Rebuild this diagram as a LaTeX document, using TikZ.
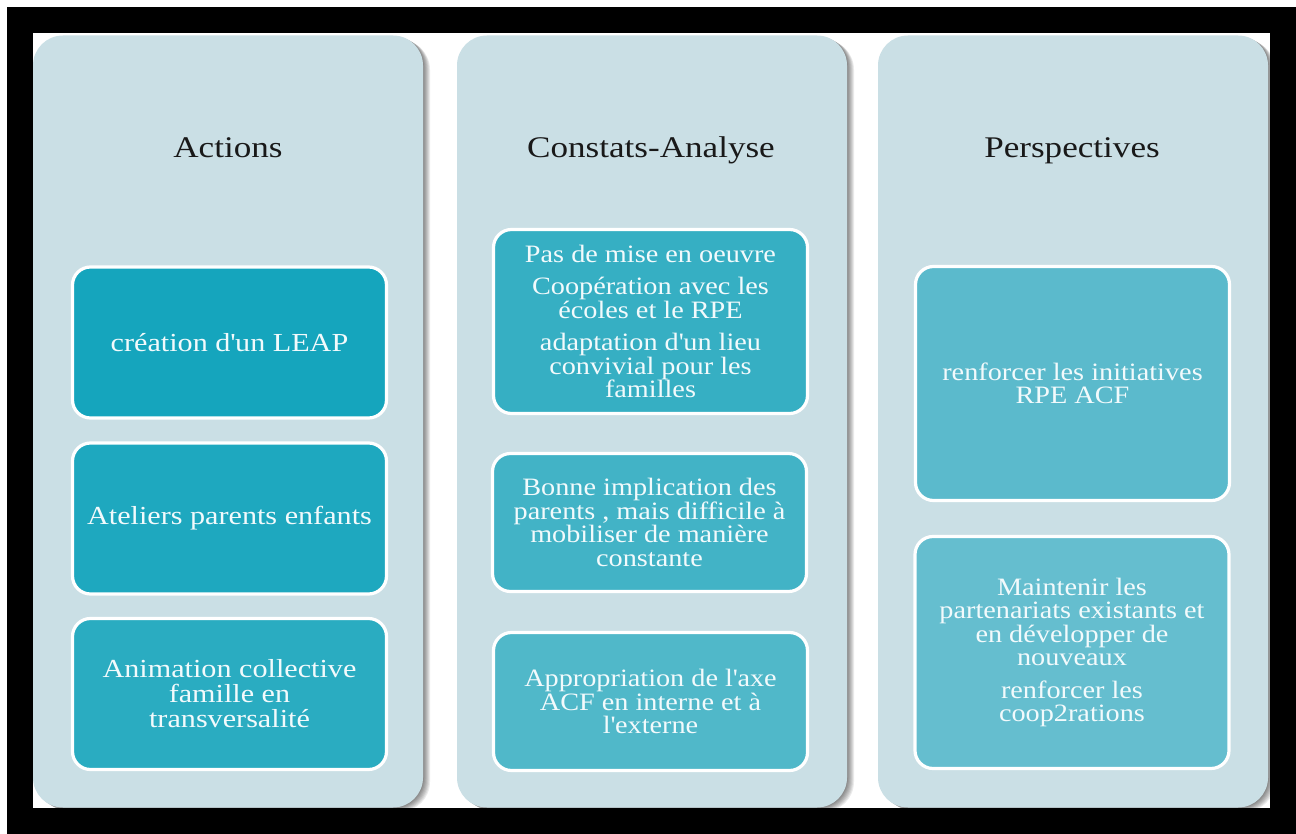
\documentclass[tikz,border=0pt]{standalone}
\usepackage{fontspec}
\setmainfont{Liberation Serif}
\newfontfamily\fhead[FakeStretch=1.17]{Liberation Serif}
\newfontfamily\fwa[FakeStretch=1.16]{Liberation Serif}
\newfontfamily\fwb[FakeStretch=1.13]{Liberation Serif}
\newcommand{\ap}{\textquotesingle}
\definecolor{colbg}{RGB}{202,223,229}
\definecolor{ca}{RGB}{21,165,189}
\definecolor{cb}{RGB}{30,168,191}
\definecolor{cc}{RGB}{42,172,193}
\definecolor{cd}{RGB}{54,175,195}
\definecolor{ce}{RGB}{66,179,198}
\definecolor{cf}{RGB}{80,184,201}
\definecolor{cg}{RGB}{91,186,204}
\definecolor{ch}{RGB}{101,190,207}
\definecolor{txt}{RGB}{242,250,252}
\tikzset{
  colbox/.style={fill=colbg, rounded corners=15pt, inner sep=0pt, minimum width=195pt, minimum height=386pt},
  colshadow/.style={fill=black, opacity=0.08, rounded corners=15pt, inner sep=0pt, minimum width=195pt, minimum height=386pt},
  head/.style={anchor=base, text=black!90, font=\fhead\fontsize{15}{17}\selectfont},
  item/.style={draw=white, line width=1.6pt, rounded corners=9pt, text=txt, align=center, inner sep=2pt, minimum width=157pt},
  fa/.style={font=\fwa\fontsize{13}{12.5}\selectfont},
  fb/.style={font=\fwb\fontsize{12.5}{11.75}\selectfont}
}
\begin{document}
\begin{tikzpicture}[x=0.5pt,y=-0.5pt]
\useasboundingbox (0,0) rectangle (1296,834);
\fill[white] (0,0) rectangle (1296,834);
\fill[black] (7,7) rectangle (1296,834);
\fill[white] (33,33) rectangle (1270,808);
\begin{scope}
\clip (33,33) rectangle (1270,808);
\foreach \cx in {228,652,1073}{
  \foreach \k in {1,2,3,4,5,6,7}{
    \node[colshadow] at (\cx+\k,421.5+0.6*\k) {};
  }
}
\node[colbox] (c1) at (228,421.5) {};
\node[colbox] (c2) at (652,421.5) {};
\node[colbox] (c3) at (1073,421.5) {};
\end{scope}
\node[head] (h1) at (228,158) {Actions};
\node[head] (h2) at (651,158) {Constats-Analyse};
\node[head] (h3) at (1072,158) {Perspectives};
% column 1
\node[item, fa, fill=ca, minimum height=75.5pt] (a1) at (229.5,342.5) {création d\ap un LEAP};
\node[item, fa, fill=cb, minimum height=75.5pt] (a2) at (229.5,518.5) {Ateliers parents enfants};
\node[item, fa, fill=cc, minimum height=75.5pt] (a3) at (229.5,694) {Animation collective\\famille en\\transversalité};
% column 2
\node[item, fb, fill=cd, minimum height=92pt] (b1) at (650.5,321.5) {Pas de mise en oeuvre\\[4.5pt]Coopération avec les\\écoles et le RPE\\[4.5pt]adaptation d\ap un lieu\\convivial pour les\\familles};
\node[item, fb, fill=ce, minimum height=69pt] (b2) at (649.5,522.5) {Bonne implication des\\parents , mais difficile à\\mobiliser de manière\\constante};
\node[item, fb, fill=cf, minimum height=69pt] (b3) at (650.5,701.5) {Appropriation de l\ap axe\\ACF en interne et à\\l\ap externe};
% column 3
\node[item, fb, fill=cg, minimum height=117pt] (p1) at (1072.5,383.5) {renforcer les initiatives\\RPE ACF};
\node[item, fb, fill=ch, minimum height=116pt] (p2) at (1072,652.5) {Maintenir les\\partenariats existants et\\en développer de\\nouveaux\\[4.5pt]renforcer les\\coop2rations};
\end{tikzpicture}
\end{document}
